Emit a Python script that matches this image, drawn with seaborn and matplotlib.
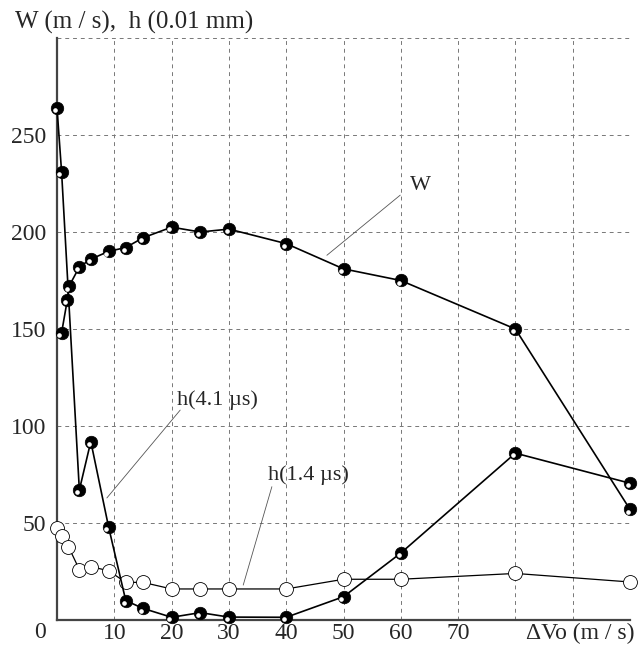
import numpy as np
import pandas as pd
import seaborn as sns
from matplotlib import pyplot as plt
from matplotlib.transforms import offset_copy

# values
w_x = [0.8, 1.8, 2.1, 3.9, 5.9, 9, 12, 15, 20, 25, 30, 40, 50, 60, 80, 100]
w_y = [148, 165, 172, 182, 186, 190, 192, 197, 202.5, 200, 201.5, 194, 181, 175, 150, 57]

h41_x = [0, 0.8, 3.9, 5.9, 9, 12, 15, 20, 25, 30, 40, 50, 60, 80, 100]
h41_y = [264, 231, 67, 92, 48, 10, 6, 1.4, 3.8, 1.5, 1.4, 12, 34.5, 86, 70.5]

h14_x = [0, 0.8, 2, 3.9, 5.9, 9, 12, 15, 20, 25, 30, 40, 50, 60, 80, 100]
h14_y = [47.6, 43.5, 37.8, 26, 27.5, 25.4, 19.4, 19.4, 16, 16, 16, 16, 21, 21, 24, 19.6]

x_ticks = [0, 10, 20, 30, 40, 50, 60, 70, 80, 90, 100]
x_labels = ["", "10", "20", "30", "40", "50", "60", "70", "", "", ""]
y_ticks = [0, 50, 100, 150, 200, 250, 300]
y_labels = ["", "50", "100", "150", "200", "250", ""]

sns.set_style("white")
plt.rcParams['font.family'] = ['Liberation Serif', 'DejaVu Serif']
FS = 17

fig = plt.figure(figsize=(6.38, 6.46), dpi=100)
ax = fig.add_axes([57 / 638, 1 - 620 / 646, 573 / 638, 582 / 646])

ax.set_xlim(0, 100)
ax.set_ylim(0, 300)
ax.set_xticks(x_ticks, x_labels)
ax.set_yticks(y_ticks, y_labels)
ax.tick_params(length=0, labelsize=FS)
ax.tick_params(axis="y", pad=8)
ax.tick_params(axis="x", pad=2)
ax.grid(True, color="#777777", linestyle=(0, (4, 4)), linewidth=0.7)
for s in ["top", "right"]:
    ax.spines[s].set_visible(False)
for s in ["left", "bottom"]:
    ax.spines[s].set_color("#444444")
    ax.spines[s].set_linewidth(1.6)

hl = offset_copy(ax.transData, fig=fig, x=-2.2, y=-2.2, units="dots")

# open circles, h(1.4 us)
d14 = pd.DataFrame({"x": h14_x, "y": h14_y})
sns.lineplot(data=d14, x="x", y="y", ax=ax, color="black", linewidth=0.9,
             marker="o", markersize=10, markerfacecolor="white",
             markeredgecolor="black", markeredgewidth=0.6,
             sort=False, estimator=None, clip_on=False, zorder=3)

# filled circles, h(4.1 us) and W
for xs, ys in [(h41_x, h41_y), (w_x, w_y)]:
    d = pd.DataFrame({"x": xs, "y": ys})
    sns.lineplot(data=d, x="x", y="y", ax=ax, color="black", linewidth=1.2,
                 marker="o", markersize=9, markerfacecolor="black",
                 markeredgecolor="black", markeredgewidth=0.5,
                 sort=False, estimator=None, clip_on=False, zorder=4)
    ax.plot(xs, ys, linestyle="none", marker="o", markersize=2.3,
            color="white", transform=hl, clip_on=False, zorder=5)

ax.set_xlabel("")
ax.set_ylabel("")

# labels with leader lines
ax.text(63.4, 224, "W", fontsize=16, ha="center", va="center")
ax.plot([47.1, 59.9], [188, 219], color="#555555", linewidth=0.6)
ax.text(20.9, 113.4, "h(4.1 \u00b5s)", fontsize=16, ha="left", va="center")
ax.plot([8.7, 21.5], [62.9, 108.2], color="#555555", linewidth=0.6)
ax.text(36.8, 74.7, "h(1.4 \u00b5s)", fontsize=16, ha="left", va="center")
ax.plot([32.5, 37.5], [18, 68.7], color="#555555", linewidth=0.6)

fig.text(40 / 638, 1 - 633 / 646, "0", fontsize=FS, ha="center", va="center")
fig.text(635 / 638, 1 - 633 / 646, "\u0394Vo (m / s)", fontsize=FS, ha="right", va="center")
fig.text(15 / 638, 1 - 22 / 646, "W (m / s),  h (0.01 mm)", fontsize=18, ha="left", va="center")

fig.savefig("out.png", dpi=100)
